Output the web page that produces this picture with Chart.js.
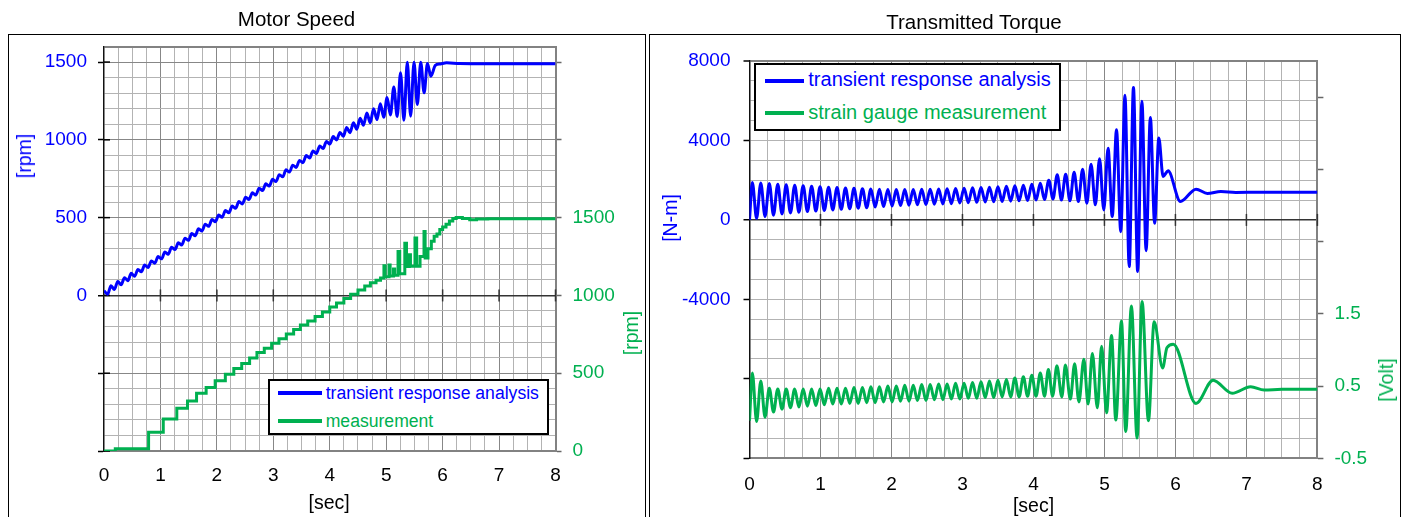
<!DOCTYPE html>
<html><head><meta charset="utf-8">
<script src="https://cdn.jsdelivr.net/npm/chart.js@4.4.1/dist/chart.umd.min.js"></script>
<style>
html,body{margin:0;padding:0;background:#fff;width:1402px;height:517px;overflow:hidden;font-family:"Liberation Sans",Arial,sans-serif;}
.panel{position:absolute;border:1px solid #000;box-sizing:border-box;z-index:0;}
canvas{position:absolute;top:0;z-index:1;}
.txt{position:absolute;white-space:nowrap;z-index:2;}
.ctr{text-align:center;}
.rot{position:absolute;white-space:nowrap;z-index:2;transform:translate(-50%,-50%) rotate(-90deg);}
.legend{position:absolute;background:#fff;border:2px solid #000;box-sizing:border-box;z-index:2;}
.lline{position:absolute;height:4px;z-index:3;}
</style></head>
<body>
<div class="panel" style="left:8px;top:34px;width:638px;height:600px;"></div>
<div class="panel" style="left:649px;top:34px;width:752px;height:600px;"></div>
<canvas id="c1" width="647" height="517" style="left:0px;"></canvas>
<canvas id="c2" width="755" height="517" style="left:647px;"></canvas>

<div class="txt ctr" style="left:96.5px;width:400px;top:7px;font-size:20.5px;line-height:24px;">Motor Speed</div>
<div class="txt ctr" style="left:774px;width:400px;top:9.5px;font-size:20.5px;line-height:24px;">Transmitted Torque</div>

<div class="rot" style="left:24.2px;top:155.8px;font-size:19.5px;line-height:22px;color:#0000FF;">[rpm]</div>
<div class="rot" style="left:630.5px;top:332.5px;font-size:19.5px;line-height:22px;color:#00B050;">[rpm]</div>
<div class="rot" style="left:670.3px;top:217.5px;font-size:19.5px;line-height:22px;color:#0000FF;">[N-m]</div>
<div class="rot" style="left:1386.3px;top:380px;font-size:19.5px;line-height:22px;color:#00B050;">[Volt]</div>
<div class="txt ctr" style="left:129.2px;width:400px;top:491px;font-size:19.5px;line-height:22px;">[sec]</div>
<div class="txt ctr" style="left:833.5px;width:400px;top:494px;font-size:19.5px;line-height:22px;">[sec]</div>

<div class="legend" style="left:268px;top:379px;width:281px;height:56px;"></div>
<div class="lline" style="left:277.7px;top:391.3px;width:44px;background:#0000FF;"></div>
<div class="lline" style="left:277.7px;top:418.7px;width:44px;background:#00B050;"></div>
<div class="txt" style="left:325.7px;top:382.7px;font-size:17.6px;line-height:20px;color:#0000FF;z-index:3;">transient response analysis</div>
<div class="txt" style="left:325.7px;top:410.6px;font-size:17.6px;line-height:20px;color:#00B050;z-index:3;">measurement</div>

<div class="legend" style="left:754px;top:63px;width:307px;height:68px;"></div>
<div class="lline" style="left:765px;top:79px;width:39.3px;background:#0000FF;"></div>
<div class="lline" style="left:765px;top:110.7px;width:39.3px;background:#00B050;"></div>
<div class="txt" style="left:808.3px;top:68.1px;font-size:20px;line-height:23px;color:#0000FF;z-index:3;">transient response analysis</div>
<div class="txt" style="left:808.3px;top:101.1px;font-size:20px;line-height:23px;color:#00B050;z-index:3;">strain gauge measurement</div>

<script>
// ---------- DATA ----------
// Motor speed, transient response analysis [rpm] (left axis)
const speedTime = [0.000,0.065,0.124,0.184,0.244,0.303,0.363,0.423,0.482,0.542,0.602,0.661,0.721,0.781,0.840,0.900,0.959,1.019,
1.079,1.138,1.198,1.258,1.317,1.377,1.437,1.496,1.556,1.616,1.675,1.735,1.795,1.854,1.914,1.974,
2.033,2.093,2.152,2.212,2.272,2.331,2.391,2.451,2.510,2.570,2.630,2.689,2.749,2.809,2.868,2.928,2.988,3.047,
3.107,3.167,3.226,3.286,3.345,3.405,3.465,3.524,3.584,3.644,3.703,3.763,3.823,3.882,3.942,4.002,
4.061,4.121,4.181,4.240,4.300,4.359,4.419,4.479,4.538,4.598,4.658,4.717,4.777,4.837,4.896,4.956,
5.016,5.075,5.135,5.195,5.254,5.314,5.374,5.433,5.493,5.552,5.612,5.672,5.731,5.791,
5.870,5.960,6.070,6.300,6.600,8.000];
const speedSim = [30,8,62,38,90,68,114,95,142,123,167,152,195,180,222,207,250,235,
279,265,309,295,338,324,368,354,398,384,428,414,458,444,488,474,
517,502,546,531,574,560,603,588,631,617,660,645,689,674,717,703,746,732,
776,762,807,793,837,823,868,853,899,883,929,913,960,944,990,973,
1021,999,1048,1023,1080,1046,1110,1068,1139,1094,1173,1110,1200,1130,1232,1145,
1272,1160,1340,1150,1431,1126,1499,1152,1499,1227,1499,1302,1491,1409,
1478,1488,1495,1490,1489,1489];

// Motor speed, measurement [rpm] (right axis, staircase)
const measTime = [0,0.20,0.79,1.05,1.29,1.48,1.64,1.81,1.97,2.15,
2.30,2.44,2.58,2.71,2.84,2.97,3.10,3.23,3.36,3.48,
3.61,3.74,3.87,4.00,4.12,4.25,4.37,4.50,4.62,4.72,4.82,4.90,
4.96,4.98,5.05,5.07,5.13,5.15,5.21,5.24,5.33,5.36,5.41,5.43,5.51,5.54,5.60,5.67,5.69,5.74,
5.80,5.85,5.90,5.95,6.00,6.06,6.12,6.18,6.24,6.35,6.48,6.60,6.80,8.00];
const measVal = [0,15,120,206,275,322,371,408,451,494,
530,562,597,633,661,693,722,752,781,810,
836,864,893,925,952,980,1008,1035,1060,1082,1098,1112,
1190,1120,1195,1125,1170,1130,1283,1140,1336,1186,1262,1187,1369,1187,1250,1411,1240,1300,
1348,1380,1395,1423,1440,1458,1478,1494,1501,1495,1487,1491,1493,1493];

// Transmitted torque, transient response analysis [N-m] (left axis)
const torqueTime = [0.000,
0.040,0.100,0.159,0.219,0.279,0.338,0.398,0.458,0.517,0.577,
0.637,0.696,0.756,0.816,0.875,0.935,0.994,1.054,1.114,1.173,
1.233,1.293,1.352,1.412,1.472,1.531,1.591,1.651,1.710,1.770,
1.830,1.889,1.949,2.009,2.068,2.128,2.187,2.247,2.307,2.366,
2.426,2.486,2.545,2.605,2.665,2.724,2.784,2.844,2.903,2.963,
3.023,3.082,3.142,3.202,3.261,3.321,3.380,3.440,3.500,3.559,
3.619,3.679,3.738,3.798,3.858,3.917,3.977,4.037,4.096,4.156,
4.216,4.275,4.335,4.394,4.454,4.514,4.573,4.633,4.693,4.752,
4.812,4.872,4.931,4.991,5.051,5.110,5.170,5.230,5.289,5.349,
5.409,5.468,5.528,5.587,5.647,5.707,5.766,5.826,
5.896,6.070,6.290,6.450,6.640,6.850,7.200,8.000];
const torqueSim = [0,
1880,80,1860,170,1830,240,1800,300,1775,350,
1750,390,1725,420,1700,445,1670,475,1650,505,
1630,535,1610,565,1590,590,1575,615,1560,645,
1545,670,1535,700,1530,720,1530,740,1535,760,
1540,775,1550,790,1560,805,1570,820,1585,855,
1600,870,1615,885,1630,900,1650,915,1670,930,
1690,945,1715,960,1745,975,1790,1000,1840,1030,
2000,1055,2270,1000,2300,960,2400,925,2555,840,
2800,760,3080,500,3610,170,4540,-590,6270,-2350,
6670,-2600,5970,-1550,5160,-170,4120,2190,
2470,925,1550,1330,1430,1385,1395,1390];

// Transmitted torque, strain gauge measurement [Volt] (right axis)
const gaugeTime = [0.000,
0.040,0.100,0.159,0.219,0.279,0.338,0.398,0.458,0.517,0.577,
0.637,0.696,0.756,0.816,0.875,0.935,0.994,1.054,1.114,1.173,
1.233,1.293,1.352,1.412,1.472,1.531,1.591,1.651,1.710,1.770,
1.830,1.889,1.949,2.009,2.068,2.128,2.187,2.247,2.307,2.366,
2.426,2.486,2.545,2.605,2.665,2.724,2.784,2.844,2.903,2.963,
3.023,3.082,3.142,3.202,3.261,3.321,3.380,3.440,3.500,3.559,
3.619,3.679,3.738,3.798,3.858,3.917,3.977,4.037,4.096,4.156,
4.210,4.270,4.330,4.400,4.450,4.520,4.580,4.640,4.710,4.770,4.830,4.900,
4.960,5.030,5.100,5.160,5.240,5.300,5.380,5.460,5.530,5.620,5.700,5.820,
5.880,5.970,6.290,6.530,6.800,7.060,7.250,7.500,8.000];
const gaugeVal = [0.02,
0.68,0.01,0.57,0.07,0.47,0.14,0.46,0.18,0.46,0.20,
0.46,0.21,0.46,0.22,0.46,0.23,0.46,0.24,0.47,0.25,
0.47,0.25,0.47,0.26,0.48,0.26,0.48,0.27,0.49,0.27,
0.49,0.28,0.50,0.28,0.50,0.29,0.51,0.29,0.51,0.30,
0.52,0.30,0.52,0.31,0.53,0.31,0.53,0.32,0.54,0.32,
0.54,0.33,0.55,0.33,0.56,0.34,0.57,0.34,0.58,0.35,
0.59,0.35,0.61,0.35,0.63,0.36,0.65,0.36,0.68,0.36,
0.73,0.36,0.78,0.35,0.79,0.32,0.81,0.28,0.87,0.25,0.95,0.20,
1.05,0.13,1.20,0.03,1.40,-0.13,1.61,-0.22,1.67,0.02,1.39,0.75,
1.03,1.08,0.26,0.58,0.40,0.49,0.445,0.455,0.455];

// Tick values / labels
const xLabels = [0,1,2,3,4,5,6,7,8];
const speedLeftLabels = [0,500,1000,1500];
const speedRightTicks = [0,500,1000,1500,2000,2500];
const speedRightLabels = [0,500,1000,1500];
const torqueLeftLabels = [-4000,0,4000,8000];
const voltTicks = [-0.5,0.5,1.5,2.5,3.5,4.5];
const voltLabels = [-0.5,0.5,1.5];

// ---------- STYLE ----------
const BLUE = '#0000FF', GREEN = '#00B050';
const MINOR = '#b3b3b3', MAJOR = '#878787', ZERO = '#333333', EDGE = '#828282', NONE = 'rgba(0,0,0,0)';
Chart.defaults.font.family = '"Liberation Sans", Arial, sans-serif';
Chart.defaults.font.size = 19;

const pts = (xs, ys) => xs.map((x, i) => ({x: x, y: ys[i]}));

function xScale(h, pad) {
  return {
    type: 'linear', position: 'bottom', min: 0, max: 8,
    ticks: {stepSize: 0.25, autoSkip: false, maxRotation: 0, minRotation: 0, padding: pad, color: '#000',
      font: {size: 19}, callback: v => xLabels.includes(v) ? String(v) : ''},
    grid: {drawTicks: false, lineWidth: 1,
      color: c => (c.tick.value === 0 || c.tick.value === 8) ? NONE : (Number.isInteger(c.tick.value) ? MAJOR : MINOR)},
    border: {display: true, color: EDGE, width: 2},
    afterFit: s => { s.height = h; }
  };
}

const zeroTicks = {
  id: 'zeroTicks',
  beforeDatasetsDraw(chart, args, opts) {
    const x = chart.scales.x, y = chart.scales.y, ctx = chart.ctx;
    const yy = y.getPixelForValue(0);
    ctx.save();
    ctx.strokeStyle = ZERO; ctx.lineWidth = 1.5;
    for (const v of xLabels) {
      if (v === 0) continue;
      const xx = x.getPixelForValue(v);
      ctx.beginPath(); ctx.moveTo(xx, yy - 6); ctx.lineTo(xx, yy + 6); ctx.stroke();
    }
    if (opts.inner) {
      ctx.strokeStyle = '#000';
      for (const v of opts.inner) {
        const p = y.getPixelForValue(v);
        ctx.beginPath(); ctx.moveTo(x.left, p); ctx.lineTo(x.left + 6, p); ctx.stroke();
      }
    }
    ctx.restore();
  }
};

// ---------- LEFT CHART: Motor Speed ----------
new Chart(document.getElementById('c1'), {
  type: 'line',
  data: {datasets: [
    {label: 'transient response analysis', data: pts(speedTime, speedSim), borderColor: BLUE, borderWidth: 3,
     pointRadius: 0, cubicInterpolationMode: 'monotone', borderJoinStyle: 'round', yAxisID: 'y'},
    {label: 'measurement', data: pts(measTime, measVal), borderColor: GREEN, borderWidth: 3,
     pointRadius: 0, stepped: true, yAxisID: 'y2'}
  ]},
  options: {
    responsive: false, animation: false, devicePixelRatio: 1,
    layout: {padding: {top: 46.5, left: 0, right: 0, bottom: 0}},
    plugins: {legend: {display: false}, tooltip: {enabled: false}, zeroTicks: {inner: [-1000, -500, 0, 500, 1000, 1500]}},
    scales: {
      x: xScale(66, 13),
      y: {type: 'linear', position: 'left', min: -1000, max: 1600,
        ticks: {stepSize: 100, autoSkip: false, padding: 11, color: BLUE, font: {size: 19},
          callback: v => speedLeftLabels.includes(v) ? String(v) : ''},
        grid: {tickLength: 6, tickWidth: 1.5,
          tickColor: c => (c.tick.value % 500 === 0 && c.tick.value !== 1600) ? '#000' : NONE,
          color: c => { const v = c.tick.value; if (v === 1600) return EDGE; if (v === -1000) return NONE; if (v === 0) return ZERO; return v % 500 === 0 ? MAJOR : MINOR; },
          lineWidth: c => c.tick.value === 1600 ? 2 : (c.tick.value === 0 ? 1.5 : 1)},
        border: {display: true, color: '#111', width: 1.5},
        afterFit: s => { s.width = 104; }},
      y2: {type: 'linear', position: 'right', min: 0, max: 2600,
        afterBuildTicks: s => { s.ticks = speedRightTicks.map(v => ({value: v})); },
        ticks: {autoSkip: false, padding: 11, color: GREEN, font: {size: 19},
          callback: v => speedRightLabels.includes(v) ? String(v) : ''},
        grid: {drawOnChartArea: false, tickLength: 6, tickWidth: 1.5, tickColor: '#666'},
        border: {display: true, color: EDGE, width: 2},
        afterFit: s => { s.width = 91.5; }}
    }
  },
  plugins: [zeroTicks]
});

// ---------- RIGHT CHART: Transmitted Torque ----------
new Chart(document.getElementById('c2'), {
  type: 'line',
  data: {datasets: [
    {label: 'transient response analysis', data: pts(torqueTime, torqueSim), borderColor: BLUE, borderWidth: 3,
     pointRadius: 0, cubicInterpolationMode: 'monotone', borderJoinStyle: 'round', yAxisID: 'y'},
    {label: 'strain gauge measurement', data: pts(gaugeTime, gaugeVal), borderColor: GREEN, borderWidth: 3,
     pointRadius: 0, cubicInterpolationMode: 'monotone', borderJoinStyle: 'round', yAxisID: 'y2'}
  ]},
  options: {
    responsive: false, animation: false, devicePixelRatio: 1,
    layout: {padding: {top: 61, left: 0, right: 0, bottom: 0}},
    plugins: {legend: {display: false}, tooltip: {enabled: false}, zeroTicks: {}},
    scales: {
      x: xScale(58.7, 15),
      y: {type: 'linear', position: 'left', min: -12000, max: 8000,
        ticks: {stepSize: 1000, autoSkip: false, padding: 13, color: BLUE, font: {size: 19},
          callback: v => torqueLeftLabels.includes(v) ? String(v) : ''},
        grid: {tickLength: 6, tickWidth: 1.5,
          tickColor: c => c.tick.value % 4000 === 0 ? '#000' : NONE,
          color: c => { const v = c.tick.value; if (v === 8000) return EDGE; if (v === -12000) return NONE; if (v === 0) return ZERO; return MINOR; },
          lineWidth: c => c.tick.value === 8000 ? 2 : (c.tick.value === 0 ? 1.5 : 1)},
        border: {display: true, color: '#111', width: 1.5},
        afterFit: s => { s.width = 102.5; }},
      y2: {type: 'linear', position: 'right', min: -0.5, max: 5,
        afterBuildTicks: s => { s.ticks = voltTicks.map(v => ({value: v})); },
        ticks: {autoSkip: false, padding: 11, color: GREEN, font: {size: 19},
          callback: v => voltLabels.includes(v) ? v.toFixed(1) : ''},
        grid: {drawOnChartArea: false, tickLength: 6, tickWidth: 1.5, tickColor: '#666'},
        border: {display: true, color: EDGE, width: 2},
        afterFit: s => { s.width = 84.6; }}
    }
  },
  plugins: [zeroTicks]
});
</script>
</body></html>
